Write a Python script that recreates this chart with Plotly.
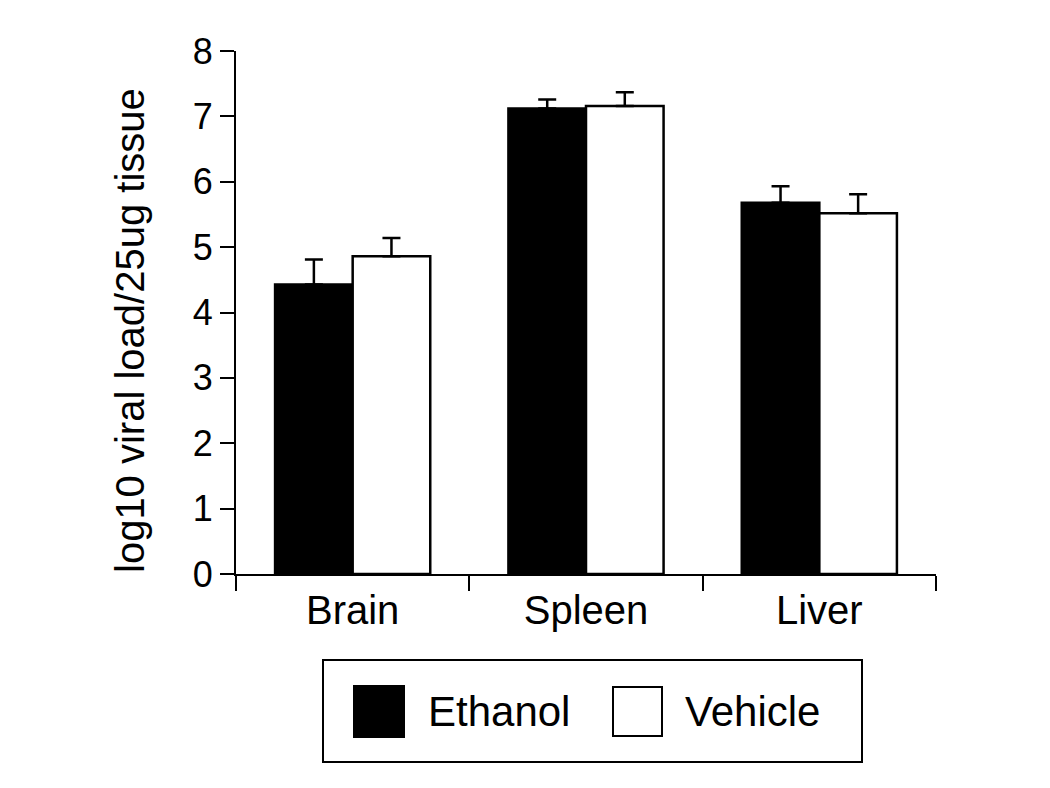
import plotly.graph_objects as go

categories = ["Brain", "Spleen", "Liver"]
ethanol = [4.43, 7.12, 5.68]
ethanol_err = [0.38, 0.14, 0.25]
vehicle = [4.86, 7.16, 5.52]
vehicle_err = [0.28, 0.21, 0.29]
y_ticks = [0, 1, 2, 3, 4, 5, 6, 7, 8]

FONT = "Liberation Sans, Arial, Helvetica, sans-serif"

fig = go.Figure()
fig.add_trace(go.Bar(
    name="Ethanol", x=categories, y=ethanol,
    marker=dict(color="black", line=dict(color="black", width=2.5)),
    error_y=dict(type="data", symmetric=False, array=ethanol_err,
                 arrayminus=[0] * len(ethanol_err),
                 color="black", thickness=2.5, width=9),
))
fig.add_trace(go.Bar(
    name="Vehicle", x=categories, y=vehicle,
    marker=dict(color="white", line=dict(color="black", width=2.5)),
    error_y=dict(type="data", symmetric=False, array=vehicle_err,
                 arrayminus=[0] * len(vehicle_err),
                 color="black", thickness=2.5, width=9),
))

# page body offset (default 8px margin) compensation
OFF = 8
W, H = 1050, 788
L, T = 236 - OFF, 51 - OFF
pw, ph = 700, 523
R = W - L - pw
B = H - T - ph


def px(x):
    return (x - OFF - L) / pw


def py(y):
    return (T + ph - (y - OFF)) / ph


shapes = [
    dict(type="rect", xref="paper", yref="paper",
         x0=px(323), x1=px(862), y0=py(660), y1=py(762),
         line=dict(color="black", width=2), fillcolor="white"),
    dict(type="rect", xref="paper", yref="paper",
         x0=px(354), x1=px(404), y0=py(686), y1=py(737),
         line=dict(color="black", width=2), fillcolor="black"),
    dict(type="rect", xref="paper", yref="paper",
         x0=px(613), x1=px(662), y0=py(687), y1=py(736),
         line=dict(color="black", width=2), fillcolor="white"),
]

annotations = [
    dict(text="Ethanol", xref="paper", yref="paper", x=px(426), y=py(711),
         xanchor="left", yanchor="middle", showarrow=False,
         font=dict(family=FONT, size=42, color="black")),
    dict(text="Vehicle", xref="paper", yref="paper", x=px(683), y=py(711),
         xanchor="left", yanchor="middle", showarrow=False,
         font=dict(family=FONT, size=42, color="black")),
    dict(text="log10 viral load/25ug tissue", xref="paper", yref="paper",
         x=px(130), y=py(330), xanchor="center", yanchor="middle",
         textangle=-90, showarrow=False,
         font=dict(family=FONT, size=40, color="black")),
]

fig.update_layout(
    width=W, height=H,
    margin=dict(l=L, r=R, t=T, b=B, pad=0),
    barmode="group", bargap=0.335, bargroupgap=0,
    showlegend=False,
    plot_bgcolor="white", paper_bgcolor="white",
    font=dict(family=FONT, color="black"),
    shapes=shapes, annotations=annotations,
    xaxis=dict(
        type="category", range=[-0.5, 2.5], tickson="boundaries",
        ticks="outside", ticklen=15, tickwidth=2, tickcolor="black",
        showline=True, linecolor="black", linewidth=2,
        showgrid=False, zeroline=False,
        tickfont=dict(family=FONT, size=40, color="black"),
    ),
    yaxis=dict(
        range=[0, 8], tickvals=y_ticks,
        ticks="outside", ticklen=14, tickwidth=2, tickcolor="black",
        showline=True, linecolor="black", linewidth=2,
        showgrid=False, zeroline=False,
        tickfont=dict(family=FONT, size=36, color="black"),
    ),
)

fig.write_html("out.html")
